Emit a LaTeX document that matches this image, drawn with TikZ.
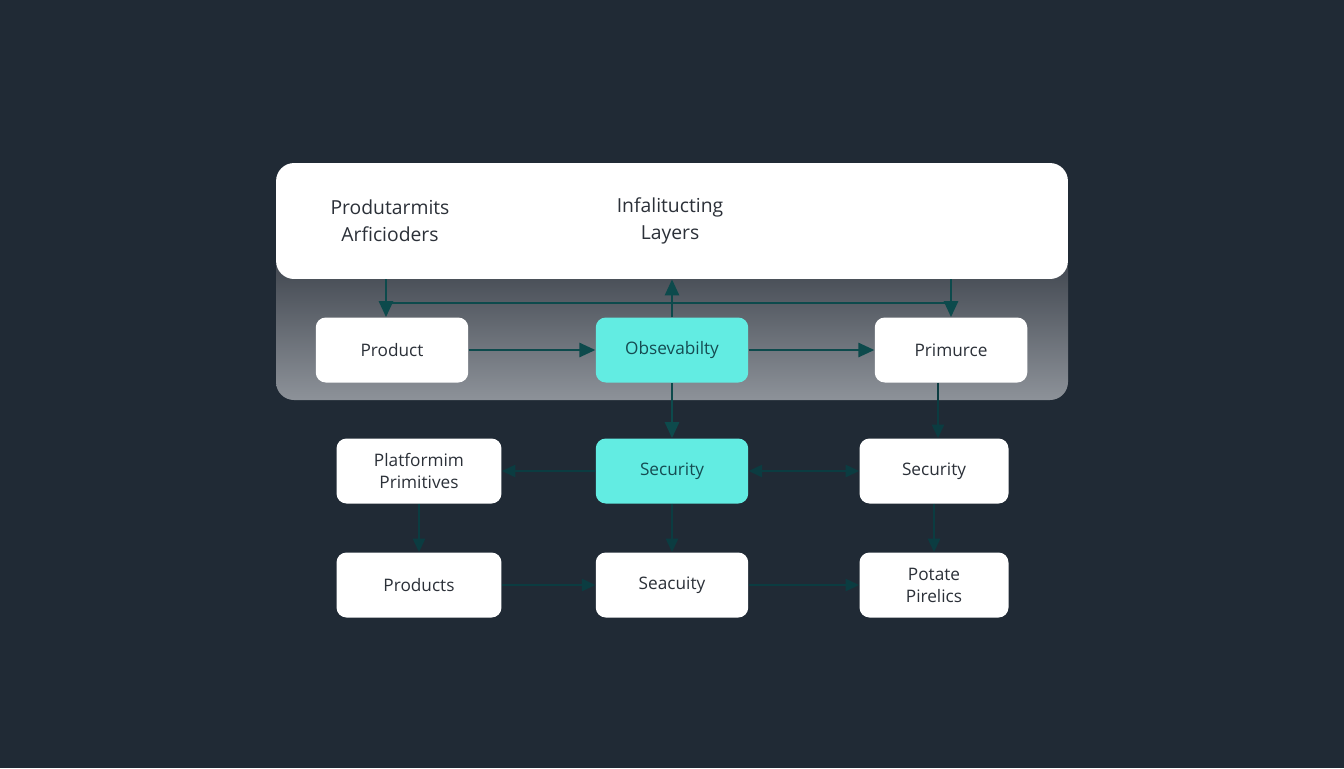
\documentclass[tikz,border=0pt]{standalone}
\usepackage{fontspec}
\setmainfont{Open Sans}
\usetikzlibrary{arrows.meta,positioning}
\definecolor{bgdark}{HTML}{202A35}
\definecolor{panelTop}{HTML}{3B414A}
\definecolor{panelBot}{HTML}{8D9299}
\definecolor{cyanbox}{HTML}{62ECE2}
\definecolor{tealline}{HTML}{0D4A4C}
\definecolor{tealdim}{HTML}{0B3C41}
\definecolor{inkgray}{HTML}{2B3038}
\definecolor{inkteal}{HTML}{154C52}
\tikzset{
  card/.style={draw=none,fill=white,rounded corners=0.2cm,minimum height=1.3cm,
    minimum width=3.05cm,align=center,text=inkgray,font=\fontsize{9.8}{12.5}\selectfont},
  hot/.style={card,fill=cyanbox,text=inkteal},
  wide/.style={minimum width=3.3cm},
  flow/.style={draw=tealline,line width=1.5pt,-{Triangle[length=0.32cm,width=0.28cm]}},
  bus/.style={draw=tealline,line width=1.5pt},
  dimflow/.style={draw=tealdim,line width=1.4pt,-{Triangle[length=0.27cm,width=0.24cm]}},
  toptext/.style={align=center,text=inkgray,font=\fontsize{11}{15.5}\selectfont}
}
\begin{document}
\begin{tikzpicture}[x=0.02cm,y=-0.02cm]
\fill[bgdark] (0,0) rectangle (1344,768);
\useasboundingbox (0,0) rectangle (1344,768);
% shaded panel behind the first row
\shade[rounded corners=0.36cm,top color=panelTop,bottom color=panelBot] (276,250) rectangle (1068,400);
\node[draw=none,fill=white,rounded corners=0.36cm,minimum width=15.84cm,minimum height=2.32cm] (layers) at (672,221) {};
\node[toptext] (artf) at (390,221) {Produtarmits\\Arficioders};
\node[toptext] (infl) at (670,221) {Infalitucting\\Layers};
% first row
\node[card] (product) at (392,350) {Product};
\node[hot] (obs) at (672,350) {Obsevabilty};
\node[card] (prim) at (951,350) {Primurce};
% second row
\node[card,wide] (platf) at (419,471) {Platformim\\Primitives};
\node[hot] (sec) at (672,471) {Security};
\node[card,minimum width=2.98cm] (secR) at (934,471) {Security};
% third row
\node[card,wide] (prods) at (419,585) {Products};
\node[card] (seac) at (672,585) {Seacuity};
\node[card,minimum width=2.98cm] (potate) at (934,585) {Potate\\Pirelics};
% links to the layer box
\coordinate (busL) at (386,303);
\coordinate (busR) at (951,303);
\draw[bus] (busL) -- (busR);
\draw[flow] ([xshift=-0.12cm]product.north |- layers.south) -- ([xshift=-0.12cm]product.north);
\draw[flow] (prim.north |- layers.south) -- (prim.north);
\draw[flow] (obs.north) -- (obs.north |- layers.south);
\draw[flow] (product) -- (obs);
\draw[flow] (obs) -- (prim);
\draw[flow] (obs) -- (sec);
% lower rows
\draw[dimflow] ([xshift=0.08cm]secR.north |- prim.south) -- ([xshift=0.08cm]secR.north);
\draw[dimflow] (sec) -- (platf);
\draw[dimflow,{Triangle[length=0.27cm,width=0.24cm]}-{Triangle[length=0.27cm,width=0.24cm]}] (sec) -- (secR);
\draw[dimflow] (platf) -- (prods);
\draw[dimflow] (sec) -- (seac);
\draw[dimflow] (secR) -- (potate);
\draw[dimflow] (prods) -- (seac);
\draw[dimflow] (seac) -- (potate);
\end{tikzpicture}
\end{document}
